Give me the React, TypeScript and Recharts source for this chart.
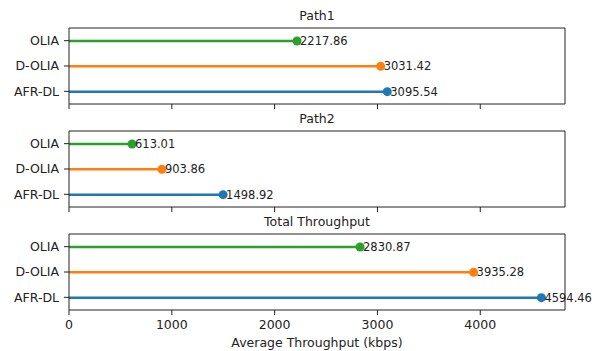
import { BarChart, Bar, XAxis, YAxis, Cell, Label } from "recharts";

const methods = ["OLIA", "D-OLIA", "AFR-DL"];
const path1 = [2217.86, 3031.42, 3095.54];
const path2 = [613.01, 903.86, 1498.92];
const total = [2830.87, 3935.28, 4594.46];
const xTicks = [0, 1000, 2000, 3000, 4000];

const colors = ["#2ca02c", "#ff7f0e", "#1f77b4"];
const FONT = "DejaVu Sans";
const INK = "#222";
const xMax = Math.max(...total) * 1.05;

const rows = (vals: number[]) => methods.map((m, i) => ({ method: m, value: vals[i] }));

// stem from 0 to value, dot at the end, value label to the right
const Lollipop = (props: any) => {
  const { x, y, width, height, fill, value } = props;
  const cy = y + height / 2;
  const end = x + width;
  return (
    <g>
      <line x1={x} y1={cy} x2={end} y2={cy} stroke={fill} strokeWidth={2.5} />
      <circle cx={end} cy={cy} r={4.5} fill={fill} />
      <text x={end + 3} y={cy} dominantBaseline="central" fontSize={11.5} fill={INK} fontFamily={FONT}>
        {Number(value).toFixed(2)}
      </text>
    </g>
  );
};

function Panel({ title, vals, top, last }: { title: string; vals: number[]; top: number; last?: boolean }) {
  const axisH = last ? 41 : 6;
  return (
    <div style={{ position: "absolute", left: 0, top, width: 601 }}>
      <div
        style={{
          position: "absolute", left: 69, width: 496, top: 9, textAlign: "center",
          fontFamily: FONT, fontSize: 12.5, color: INK, lineHeight: "14px",
        }}
      >
        {title}
      </div>
      <BarChart
        width={601}
        height={28 + 76 + axisH}
        data={rows(vals)}
        layout="vertical"
        margin={{ top: 27, right: 35, bottom: 0, left: 0 }}
        barSize={4}
        style={{ overflow: "visible" }}
      >
        <XAxis
          type="number"
          domain={[0, xMax]}
          ticks={xTicks}
          height={axisH}
          tickSize={5}
          tickMargin={5}
          tickFormatter={last ? (v: number) => String(v) : () => ""}
          tick={{ fontSize: 12.5, fill: INK, fontFamily: FONT }}
          stroke={INK}
        >
          {last && (
            <Label
              value="Average Throughput (kbps)"
              position="insideBottom"
              offset={4}
              style={{ fontSize: 12.5, fill: INK, fontFamily: FONT }}
            />
          )}
        </XAxis>
        <XAxis
          xAxisId="top"
          orientation="top"
          type="number"
          domain={[0, xMax]}
          height={1}
          tick={false}
          tickLine={false}
          stroke={INK}
        />
        <YAxis
          type="category"
          dataKey="method"
          width={69}
          tickSize={5}
          tickMargin={5}
          tick={{ fontSize: 12.5, fill: INK, fontFamily: FONT }}
          stroke={INK}
        />
        <YAxis
          yAxisId="right"
          orientation="right"
          type="category"
          dataKey="method"
          width={1}
          tick={false}
          tickLine={false}
          stroke={INK}
        />
        <Bar dataKey="value" shape={Lollipop} isAnimationActive={false}>
          {methods.map((m, i) => (
            <Cell key={m} fill={colors[i]} />
          ))}
        </Bar>
        {/* invisible series so the top/right frame axes get drawn */}
        <Bar dataKey="value" xAxisId="top" yAxisId="right" shape={() => null} isAnimationActive={false} />
      </BarChart>
    </div>
  );
}

export default function App() {
  return (
    <div style={{ position: "absolute", left: 0, top: 0, width: 601, height: 351, background: "#fff" }}>
      <Panel title="Path1" vals={path1} top={0} />
      <Panel title="Path2" vals={path2} top={103} />
      <Panel title="Total Throughput" vals={total} top={206} last />
    </div>
  );
}
